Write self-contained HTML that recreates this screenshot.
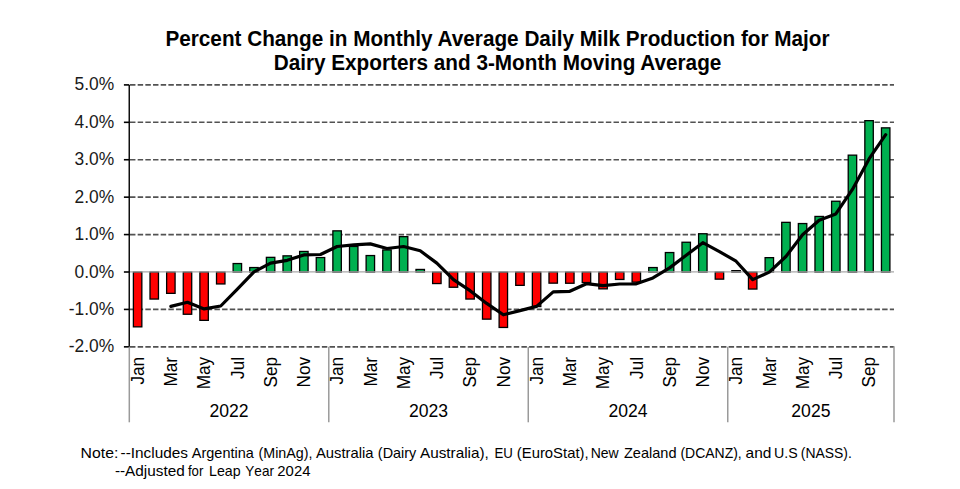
<!DOCTYPE html>
<html><head><meta charset="utf-8"><style>
html,body{margin:0;padding:0;background:#fff;width:960px;height:489px;overflow:hidden}
svg{display:block;font-family:"Liberation Sans", sans-serif}
</style></head><body>
<svg width="960" height="489" viewBox="0 0 960 489">
<rect width="960" height="489" fill="#fff"/>
<text transform="translate(497.5,45.8) scale(1,1.02)" text-anchor="middle" font-size="20.75" font-weight="bold" fill="#000">Percent Change in Monthly Average Daily Milk Production for Major</text>
<text transform="translate(497.5,69.8) scale(1,1.02)" text-anchor="middle" font-size="20.75" font-weight="bold" fill="#000">Dairy Exporters and 3-Month Moving Average</text>
<line x1="129.3" y1="84.90" x2="894.0" y2="84.90" stroke="#525252" stroke-width="1.6" stroke-dasharray="5.45 2.225" stroke-dashoffset="-0.7"/>
<line x1="129.3" y1="122.32" x2="894.0" y2="122.32" stroke="#525252" stroke-width="1.6" stroke-dasharray="5.45 2.225" stroke-dashoffset="-0.7"/>
<line x1="129.3" y1="159.74" x2="894.0" y2="159.74" stroke="#525252" stroke-width="1.6" stroke-dasharray="5.45 2.225" stroke-dashoffset="-0.7"/>
<line x1="129.3" y1="197.16" x2="894.0" y2="197.16" stroke="#525252" stroke-width="1.6" stroke-dasharray="5.45 2.225" stroke-dashoffset="-0.7"/>
<line x1="129.3" y1="234.58" x2="894.0" y2="234.58" stroke="#525252" stroke-width="1.6" stroke-dasharray="5.45 2.225" stroke-dashoffset="-0.7"/>
<line x1="129.3" y1="309.42" x2="894.0" y2="309.42" stroke="#525252" stroke-width="1.6" stroke-dasharray="5.45 2.225" stroke-dashoffset="-0.7"/>
<line x1="129.3" y1="346.84" x2="894.0" y2="346.84" stroke="#525252" stroke-width="1.6" stroke-dasharray="5.45 2.225" stroke-dashoffset="-0.7"/>
<rect x="133.39" y="272.00" width="8.45" height="54.85" fill="#FF0000" stroke="#000" stroke-width="1.3"/>
<rect x="150.01" y="272.00" width="8.45" height="27.05" fill="#FF0000" stroke="#000" stroke-width="1.3"/>
<rect x="166.63" y="272.00" width="8.45" height="21.35" fill="#FF0000" stroke="#000" stroke-width="1.3"/>
<rect x="183.26" y="272.00" width="8.45" height="42.25" fill="#FF0000" stroke="#000" stroke-width="1.3"/>
<rect x="199.88" y="272.00" width="8.45" height="48.35" fill="#FF0000" stroke="#000" stroke-width="1.3"/>
<rect x="216.51" y="272.00" width="8.45" height="11.95" fill="#FF0000" stroke="#000" stroke-width="1.3"/>
<rect x="233.13" y="263.55" width="8.45" height="8.45" fill="#00B050" stroke="#000" stroke-width="1.3"/>
<rect x="249.75" y="267.55" width="8.45" height="4.45" fill="#00B050" stroke="#000" stroke-width="1.3"/>
<rect x="266.38" y="257.35" width="8.45" height="14.65" fill="#00B050" stroke="#000" stroke-width="1.3"/>
<rect x="283.00" y="255.85" width="8.45" height="16.15" fill="#00B050" stroke="#000" stroke-width="1.3"/>
<rect x="299.63" y="251.45" width="8.45" height="20.55" fill="#00B050" stroke="#000" stroke-width="1.3"/>
<rect x="316.25" y="257.55" width="8.45" height="14.45" fill="#00B050" stroke="#000" stroke-width="1.3"/>
<rect x="332.87" y="230.85" width="8.45" height="41.15" fill="#00B050" stroke="#000" stroke-width="1.3"/>
<rect x="349.50" y="246.45" width="8.45" height="25.55" fill="#00B050" stroke="#000" stroke-width="1.3"/>
<rect x="366.12" y="255.55" width="8.45" height="16.45" fill="#00B050" stroke="#000" stroke-width="1.3"/>
<rect x="382.75" y="249.95" width="8.45" height="22.05" fill="#00B050" stroke="#000" stroke-width="1.3"/>
<rect x="399.37" y="236.65" width="8.45" height="35.35" fill="#00B050" stroke="#000" stroke-width="1.3"/>
<rect x="415.99" y="269.45" width="8.45" height="2.55" fill="#00B050" stroke="#000" stroke-width="1.3"/>
<rect x="432.62" y="272.00" width="8.45" height="11.55" fill="#FF0000" stroke="#000" stroke-width="1.3"/>
<rect x="449.24" y="272.00" width="8.45" height="15.25" fill="#FF0000" stroke="#000" stroke-width="1.3"/>
<rect x="465.87" y="272.00" width="8.45" height="27.05" fill="#FF0000" stroke="#000" stroke-width="1.3"/>
<rect x="482.49" y="272.00" width="8.45" height="47.15" fill="#FF0000" stroke="#000" stroke-width="1.3"/>
<rect x="499.11" y="272.00" width="8.45" height="55.45" fill="#FF0000" stroke="#000" stroke-width="1.3"/>
<rect x="515.74" y="272.00" width="8.45" height="13.35" fill="#FF0000" stroke="#000" stroke-width="1.3"/>
<rect x="532.36" y="272.00" width="8.45" height="34.55" fill="#FF0000" stroke="#000" stroke-width="1.3"/>
<rect x="548.98" y="272.00" width="8.45" height="11.15" fill="#FF0000" stroke="#000" stroke-width="1.3"/>
<rect x="565.61" y="272.00" width="8.45" height="11.25" fill="#FF0000" stroke="#000" stroke-width="1.3"/>
<rect x="582.23" y="272.00" width="8.45" height="10.55" fill="#FF0000" stroke="#000" stroke-width="1.3"/>
<rect x="598.86" y="272.00" width="8.45" height="16.85" fill="#FF0000" stroke="#000" stroke-width="1.3"/>
<rect x="615.48" y="272.00" width="8.45" height="7.45" fill="#FF0000" stroke="#000" stroke-width="1.3"/>
<rect x="632.10" y="272.00" width="8.45" height="10.15" fill="#FF0000" stroke="#000" stroke-width="1.3"/>
<rect x="648.73" y="267.55" width="8.45" height="4.45" fill="#00B050" stroke="#000" stroke-width="1.3"/>
<rect x="665.35" y="252.55" width="8.45" height="19.45" fill="#00B050" stroke="#000" stroke-width="1.3"/>
<rect x="681.98" y="242.25" width="8.45" height="29.75" fill="#00B050" stroke="#000" stroke-width="1.3"/>
<rect x="698.60" y="233.75" width="8.45" height="38.25" fill="#00B050" stroke="#000" stroke-width="1.3"/>
<rect x="715.22" y="272.00" width="8.45" height="7.15" fill="#FF0000" stroke="#000" stroke-width="1.3"/>
<rect x="731.85" y="270.65" width="8.45" height="1.35" fill="#00B050" stroke="#000" stroke-width="1.3"/>
<rect x="748.47" y="272.00" width="8.45" height="17.05" fill="#FF0000" stroke="#000" stroke-width="1.3"/>
<rect x="765.10" y="257.65" width="8.45" height="14.35" fill="#00B050" stroke="#000" stroke-width="1.3"/>
<rect x="781.72" y="222.35" width="8.45" height="49.65" fill="#00B050" stroke="#000" stroke-width="1.3"/>
<rect x="798.34" y="223.55" width="8.45" height="48.45" fill="#00B050" stroke="#000" stroke-width="1.3"/>
<rect x="814.97" y="216.45" width="8.45" height="55.55" fill="#00B050" stroke="#000" stroke-width="1.3"/>
<rect x="831.59" y="201.25" width="8.45" height="70.75" fill="#00B050" stroke="#000" stroke-width="1.3"/>
<rect x="848.22" y="155.15" width="8.45" height="116.85" fill="#00B050" stroke="#000" stroke-width="1.3"/>
<rect x="864.84" y="120.65" width="8.45" height="151.35" fill="#00B050" stroke="#000" stroke-width="1.3"/>
<rect x="881.46" y="127.85" width="8.45" height="144.15" fill="#00B050" stroke="#000" stroke-width="1.3"/>
<line x1="129.3" y1="271.9" x2="894.0" y2="271.9" stroke="#A8A8A8" stroke-width="1.4"/>
<line x1="129.24" y1="84.90" x2="129.24" y2="346.84" stroke="#000" stroke-width="1.4"/>
<line x1="123.9" y1="346.84" x2="129.3" y2="346.84" stroke="#000" stroke-width="1.6"/>
<line x1="123.9" y1="309.42" x2="129.3" y2="309.42" stroke="#000" stroke-width="1.6"/>
<line x1="123.9" y1="272.00" x2="129.3" y2="272.00" stroke="#000" stroke-width="1.6"/>
<line x1="123.9" y1="234.58" x2="129.3" y2="234.58" stroke="#000" stroke-width="1.6"/>
<line x1="123.9" y1="197.16" x2="129.3" y2="197.16" stroke="#000" stroke-width="1.6"/>
<line x1="123.9" y1="159.74" x2="129.3" y2="159.74" stroke="#000" stroke-width="1.6"/>
<line x1="123.9" y1="122.32" x2="129.3" y2="122.32" stroke="#000" stroke-width="1.6"/>
<line x1="123.9" y1="84.90" x2="129.3" y2="84.90" stroke="#000" stroke-width="1.6"/>
<line x1="129.30" y1="346.84" x2="129.30" y2="422.3" stroke="#9A9A9A" stroke-width="1.5"/>
<line x1="328.79" y1="346.84" x2="328.79" y2="422.3" stroke="#9A9A9A" stroke-width="1.5"/>
<line x1="528.27" y1="346.84" x2="528.27" y2="422.3" stroke="#9A9A9A" stroke-width="1.5"/>
<line x1="727.76" y1="346.84" x2="727.76" y2="422.3" stroke="#9A9A9A" stroke-width="1.5"/>
<line x1="894.0" y1="346.14" x2="894.0" y2="422.3" stroke="#9A9A9A" stroke-width="1.5"/>
<polyline points="170.86,306.40 187.48,302.30 204.11,308.90 220.73,306.00 237.36,289.15 253.98,271.90 270.60,263.20 287.23,260.30 303.85,254.90 320.48,254.50 337.10,246.50 353.72,244.80 370.35,243.90 386.97,248.50 403.59,246.50 420.22,250.80 436.84,263.10 453.47,279.70 470.09,290.70 486.71,303.40 503.34,314.80 519.96,310.60 536.59,306.40 553.21,291.90 569.83,291.30 586.46,283.70 603.08,285.60 619.71,284.00 636.33,283.80 652.95,277.90 669.58,267.90 686.20,255.30 702.83,242.70 719.45,251.60 736.07,261.20 752.70,279.60 769.32,272.10 785.94,256.50 802.57,234.80 819.19,220.20 835.82,213.90 852.44,189.40 869.06,158.90 885.69,134.70" fill="none" stroke="#000" stroke-width="3.2" stroke-linejoin="round" stroke-linecap="round"/>
<text transform="translate(114.1,352.34) scale(1,1.02)" text-anchor="end" font-size="17.4" fill="#1a1a1a">-2.0%</text>
<text transform="translate(114.1,314.92) scale(1,1.02)" text-anchor="end" font-size="17.4" fill="#1a1a1a">-1.0%</text>
<text transform="translate(114.1,277.50) scale(1,1.02)" text-anchor="end" font-size="17.4" fill="#1a1a1a">0.0%</text>
<text transform="translate(114.1,240.08) scale(1,1.02)" text-anchor="end" font-size="17.4" fill="#1a1a1a">1.0%</text>
<text transform="translate(114.1,202.66) scale(1,1.02)" text-anchor="end" font-size="17.4" fill="#1a1a1a">2.0%</text>
<text transform="translate(114.1,165.24) scale(1,1.02)" text-anchor="end" font-size="17.4" fill="#1a1a1a">3.0%</text>
<text transform="translate(114.1,127.82) scale(1,1.02)" text-anchor="end" font-size="17.4" fill="#1a1a1a">4.0%</text>
<text transform="translate(114.1,90.40) scale(1,1.02)" text-anchor="end" font-size="17.4" fill="#1a1a1a">5.0%</text>
<text transform="translate(143.81,356.9) rotate(-90) scale(1,1.02)" text-anchor="end" font-size="17.2" fill="#000">Jan</text>
<text transform="translate(177.06,356.9) rotate(-90) scale(1,1.02)" text-anchor="end" font-size="17.2" fill="#000">Mar</text>
<text transform="translate(210.31,356.9) rotate(-90) scale(1,1.02)" text-anchor="end" font-size="17.2" fill="#000">May</text>
<text transform="translate(243.56,356.9) rotate(-90) scale(1,1.02)" text-anchor="end" font-size="17.2" fill="#000">Jul</text>
<text transform="translate(276.80,356.9) rotate(-90) scale(1,1.02)" text-anchor="end" font-size="17.2" fill="#000">Sep</text>
<text transform="translate(310.05,356.9) rotate(-90) scale(1,1.02)" text-anchor="end" font-size="17.2" fill="#000">Nov</text>
<text transform="translate(343.30,356.9) rotate(-90) scale(1,1.02)" text-anchor="end" font-size="17.2" fill="#000">Jan</text>
<text transform="translate(376.55,356.9) rotate(-90) scale(1,1.02)" text-anchor="end" font-size="17.2" fill="#000">Mar</text>
<text transform="translate(409.79,356.9) rotate(-90) scale(1,1.02)" text-anchor="end" font-size="17.2" fill="#000">May</text>
<text transform="translate(443.04,356.9) rotate(-90) scale(1,1.02)" text-anchor="end" font-size="17.2" fill="#000">Jul</text>
<text transform="translate(476.29,356.9) rotate(-90) scale(1,1.02)" text-anchor="end" font-size="17.2" fill="#000">Sep</text>
<text transform="translate(509.54,356.9) rotate(-90) scale(1,1.02)" text-anchor="end" font-size="17.2" fill="#000">Nov</text>
<text transform="translate(542.79,356.9) rotate(-90) scale(1,1.02)" text-anchor="end" font-size="17.2" fill="#000">Jan</text>
<text transform="translate(576.03,356.9) rotate(-90) scale(1,1.02)" text-anchor="end" font-size="17.2" fill="#000">Mar</text>
<text transform="translate(609.28,356.9) rotate(-90) scale(1,1.02)" text-anchor="end" font-size="17.2" fill="#000">May</text>
<text transform="translate(642.53,356.9) rotate(-90) scale(1,1.02)" text-anchor="end" font-size="17.2" fill="#000">Jul</text>
<text transform="translate(675.78,356.9) rotate(-90) scale(1,1.02)" text-anchor="end" font-size="17.2" fill="#000">Sep</text>
<text transform="translate(709.03,356.9) rotate(-90) scale(1,1.02)" text-anchor="end" font-size="17.2" fill="#000">Nov</text>
<text transform="translate(742.27,356.9) rotate(-90) scale(1,1.02)" text-anchor="end" font-size="17.2" fill="#000">Jan</text>
<text transform="translate(775.52,356.9) rotate(-90) scale(1,1.02)" text-anchor="end" font-size="17.2" fill="#000">Mar</text>
<text transform="translate(808.77,356.9) rotate(-90) scale(1,1.02)" text-anchor="end" font-size="17.2" fill="#000">May</text>
<text transform="translate(842.02,356.9) rotate(-90) scale(1,1.02)" text-anchor="end" font-size="17.2" fill="#000">Jul</text>
<text transform="translate(875.26,356.9) rotate(-90) scale(1,1.02)" text-anchor="end" font-size="17.2" fill="#000">Sep</text>
<text transform="translate(229.04,417.4) scale(1,1.02)" text-anchor="middle" font-size="17.6" fill="#000">2022</text>
<text transform="translate(428.53,417.4) scale(1,1.02)" text-anchor="middle" font-size="17.6" fill="#000">2023</text>
<text transform="translate(628.02,417.4) scale(1,1.02)" text-anchor="middle" font-size="17.6" fill="#000">2024</text>
<text transform="translate(810.88,417.4) scale(1,1.02)" text-anchor="middle" font-size="17.6" fill="#000">2025</text>
<text x="80.60" y="457.7" font-size="14.5" style="font-kerning:none" textLength="37.74" lengthAdjust="spacingAndGlyphs" fill="#000">Note:</text>
<text x="120.57" y="457.7" font-size="14.5" style="font-kerning:none" textLength="67.49" lengthAdjust="spacingAndGlyphs" fill="#000">--Includes</text>
<text x="191.87" y="457.7" font-size="14.5" style="font-kerning:none" textLength="61.88" lengthAdjust="spacingAndGlyphs" fill="#000">Argentina</text>
<text x="258.51" y="457.7" font-size="14.5" style="font-kerning:none" textLength="54.02" lengthAdjust="spacingAndGlyphs" fill="#000">(MinAg),</text>
<text x="315.97" y="457.7" font-size="14.5" style="font-kerning:none" textLength="57.53" lengthAdjust="spacingAndGlyphs" fill="#000">Australia</text>
<text x="377.86" y="457.7" font-size="14.5" style="font-kerning:none" textLength="38.42" lengthAdjust="spacingAndGlyphs" fill="#000">(Dairy</text>
<text x="419.97" y="457.7" font-size="14.5" style="font-kerning:none" textLength="68.91" lengthAdjust="spacingAndGlyphs" fill="#000">Australia),</text>
<text x="494.51" y="457.7" font-size="14.5" style="font-kerning:none" textLength="18.41" lengthAdjust="spacingAndGlyphs" fill="#000">EU</text>
<text x="516.83" y="457.7" font-size="14.5" style="font-kerning:none" textLength="71.75" lengthAdjust="spacingAndGlyphs" fill="#000">(EuroStat),</text>
<text x="590.75" y="457.7" font-size="14.5" style="font-kerning:none" textLength="27.96" lengthAdjust="spacingAndGlyphs" fill="#000">New</text>
<text x="623.94" y="457.7" font-size="14.5" style="font-kerning:none" textLength="52.60" lengthAdjust="spacingAndGlyphs" fill="#000">Zealand</text>
<text x="680.38" y="457.7" font-size="14.5" style="font-kerning:none" textLength="61.37" lengthAdjust="spacingAndGlyphs" fill="#000">(DCANZ),</text>
<text x="745.59" y="457.7" font-size="14.5" style="font-kerning:none" textLength="25.80" lengthAdjust="spacingAndGlyphs" fill="#000">and</text>
<text x="774.01" y="457.7" font-size="14.5" style="font-kerning:none" textLength="23.65" lengthAdjust="spacingAndGlyphs" fill="#000">U.S</text>
<text x="800.84" y="457.7" font-size="14.5" style="font-kerning:none" textLength="51.03" lengthAdjust="spacingAndGlyphs" fill="#000">(NASS).</text>
<text x="114.92" y="475.9" font-size="14.5" style="font-kerning:none" textLength="69.82" lengthAdjust="spacingAndGlyphs" fill="#000">--Adjusted</text>
<text x="187.91" y="475.9" font-size="14.5" style="font-kerning:none" textLength="15.41" lengthAdjust="spacingAndGlyphs" fill="#000">for</text>
<text x="209.04" y="475.9" font-size="14.5" style="font-kerning:none" textLength="31.56" lengthAdjust="spacingAndGlyphs" fill="#000">Leap</text>
<text x="245.30" y="475.9" font-size="14.5" style="font-kerning:none" textLength="28.67" lengthAdjust="spacingAndGlyphs" fill="#000">Year</text>
<text x="277.35" y="475.9" font-size="14.5" style="font-kerning:none" textLength="33.08" lengthAdjust="spacingAndGlyphs" fill="#000">2024</text>
</svg>
</body></html>
